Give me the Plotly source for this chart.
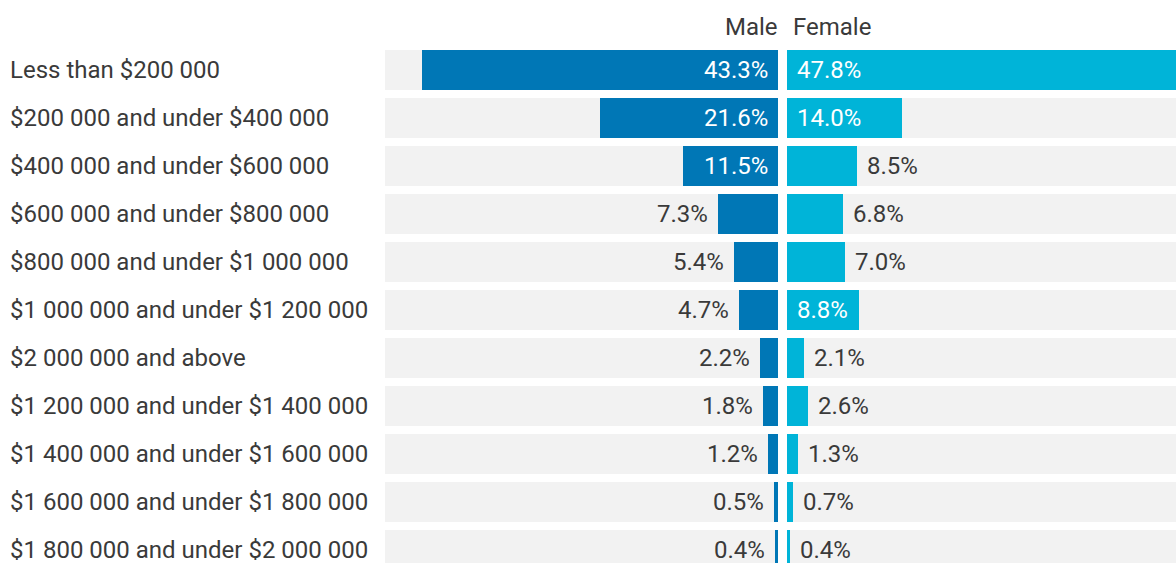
import plotly.graph_objects as go

categories = [
    "Less than $200 000",
    "$200 000 and under $400 000",
    "$400 000 and under $600 000",
    "$600 000 and under $800 000",
    "$800 000 and under $1 000 000",
    "$1 000 000 and under $1 200 000",
    "$2 000 000 and above",
    "$1 200 000 and under $1 400 000",
    "$1 400 000 and under $1 600 000",
    "$1 600 000 and under $1 800 000",
    "$1 800 000 and under $2 000 000",
]
male = [43.3, 21.6, 11.5, 7.3, 5.4, 4.7, 2.2, 1.8, 1.2, 0.5, 0.4]
female = [47.8, 14.0, 8.5, 6.8, 7.0, 8.8, 2.1, 2.6, 1.3, 0.7, 0.4]
female_inside = [True, True, False, False, False, True, False, False, False, False, False]
male_inside = [True, True, True, False, False, False, False, False, False, False, False]

MALE_C = "#0077B6"
FEMALE_C = "#00B4D8"
BG_C = "#F2F2F2"
TXT_C = "#3A3A3A"
FONT = "Roboto"
FS = 24

n = len(categories)
ys = list(range(n))
vmax = max(male + female)
W = 1176
H = 563
TOP = 46
ROW_PX = 48

fig = go.Figure()
# backgrounds
fig.add_trace(go.Bar(x=[vmax] * n, y=ys, orientation="h", marker=dict(color=BG_C, line=dict(width=0)),
                     width=0.83, xaxis="x", yaxis="y", hoverinfo="skip", showlegend=False))
fig.add_trace(go.Bar(x=[vmax] * n, y=ys, orientation="h", marker=dict(color=BG_C, line=dict(width=0)),
                     width=0.83, xaxis="x2", yaxis="y", hoverinfo="skip", showlegend=False))
# data
fig.add_trace(go.Bar(x=male, y=ys, orientation="h", marker=dict(color=MALE_C, line=dict(width=0)),
                     width=0.83, xaxis="x", yaxis="y", name="Male", showlegend=False))
fig.add_trace(go.Bar(x=female, y=ys, orientation="h", marker=dict(color=FEMALE_C, line=dict(width=0)),
                     width=0.83, xaxis="x2", yaxis="y", name="Female", showlegend=False))

annotations = []
for i, cat in enumerate(categories):
    annotations.append(dict(x=0, xref="paper", y=i, yref="y", text=cat, showarrow=False,
                            xanchor="left", yanchor="middle", xshift=8,
                            font=dict(family=FONT, size=FS, color=TXT_C)))
    # male value
    if male_inside[i]:
        annotations.append(dict(x=0, xref="x", y=i, yref="y", text=f"{male[i]:.1f}%", showarrow=False,
                                xanchor="right", yanchor="middle", xshift=-8,
                                font=dict(family=FONT, size=FS, color="white")))
    else:
        annotations.append(dict(x=male[i], xref="x", y=i, yref="y", text=f"{male[i]:.1f}%", showarrow=False,
                                xanchor="right", yanchor="middle", xshift=-8,
                                font=dict(family=FONT, size=FS, color=TXT_C)))
    if female_inside[i]:
        annotations.append(dict(x=0, xref="x2", y=i, yref="y", text=f"{female[i]:.1f}%", showarrow=False,
                                xanchor="left", yanchor="middle", xshift=8,
                                font=dict(family=FONT, size=FS, color="white")))
    else:
        annotations.append(dict(x=female[i], xref="x2", y=i, yref="y", text=f"{female[i]:.1f}%", showarrow=False,
                                xanchor="left", yanchor="middle", xshift=8,
                                font=dict(family=FONT, size=FS, color=TXT_C)))

annotations.append(dict(x=0, xref="x", y=1, yref="paper", text="Male", showarrow=False,
                        xanchor="right", yanchor="bottom", yshift=3, xshift=2,
                        font=dict(family=FONT, size=FS, color=TXT_C)))
annotations.append(dict(x=0, xref="x2", y=1, yref="paper", text="Female", showarrow=False,
                        xanchor="left", yanchor="bottom", yshift=3, xshift=4,
                        font=dict(family=FONT, size=FS, color=TXT_C)))

left_px = (385, 778)
right_px = (787, 1176)
px_per_unit = (left_px[1] - left_px[0]) / vmax
right_range = (right_px[1] - right_px[0]) / px_per_unit
y_bottom = -0.5 + (H - TOP) / ROW_PX

fig.update_layout(
    width=W, height=H,
    margin=dict(l=0, r=0, t=TOP, b=0),
    paper_bgcolor="white", plot_bgcolor="white",
    barmode="overlay",
    bargap=0,
    xaxis=dict(domain=[left_px[0] / W, left_px[1] / W], range=[vmax, 0], visible=False, fixedrange=True),
    xaxis2=dict(domain=[right_px[0] / W, 1], range=[0, right_range], visible=False, fixedrange=True),
    yaxis=dict(range=[y_bottom, -0.5], visible=False, fixedrange=True),
    annotations=annotations,
    font=dict(family=FONT),
)

fig.write_html("out.html", config={"displayModeBar": False},
               post_script="document.body.style.margin='0';document.body.style.padding='0';")
